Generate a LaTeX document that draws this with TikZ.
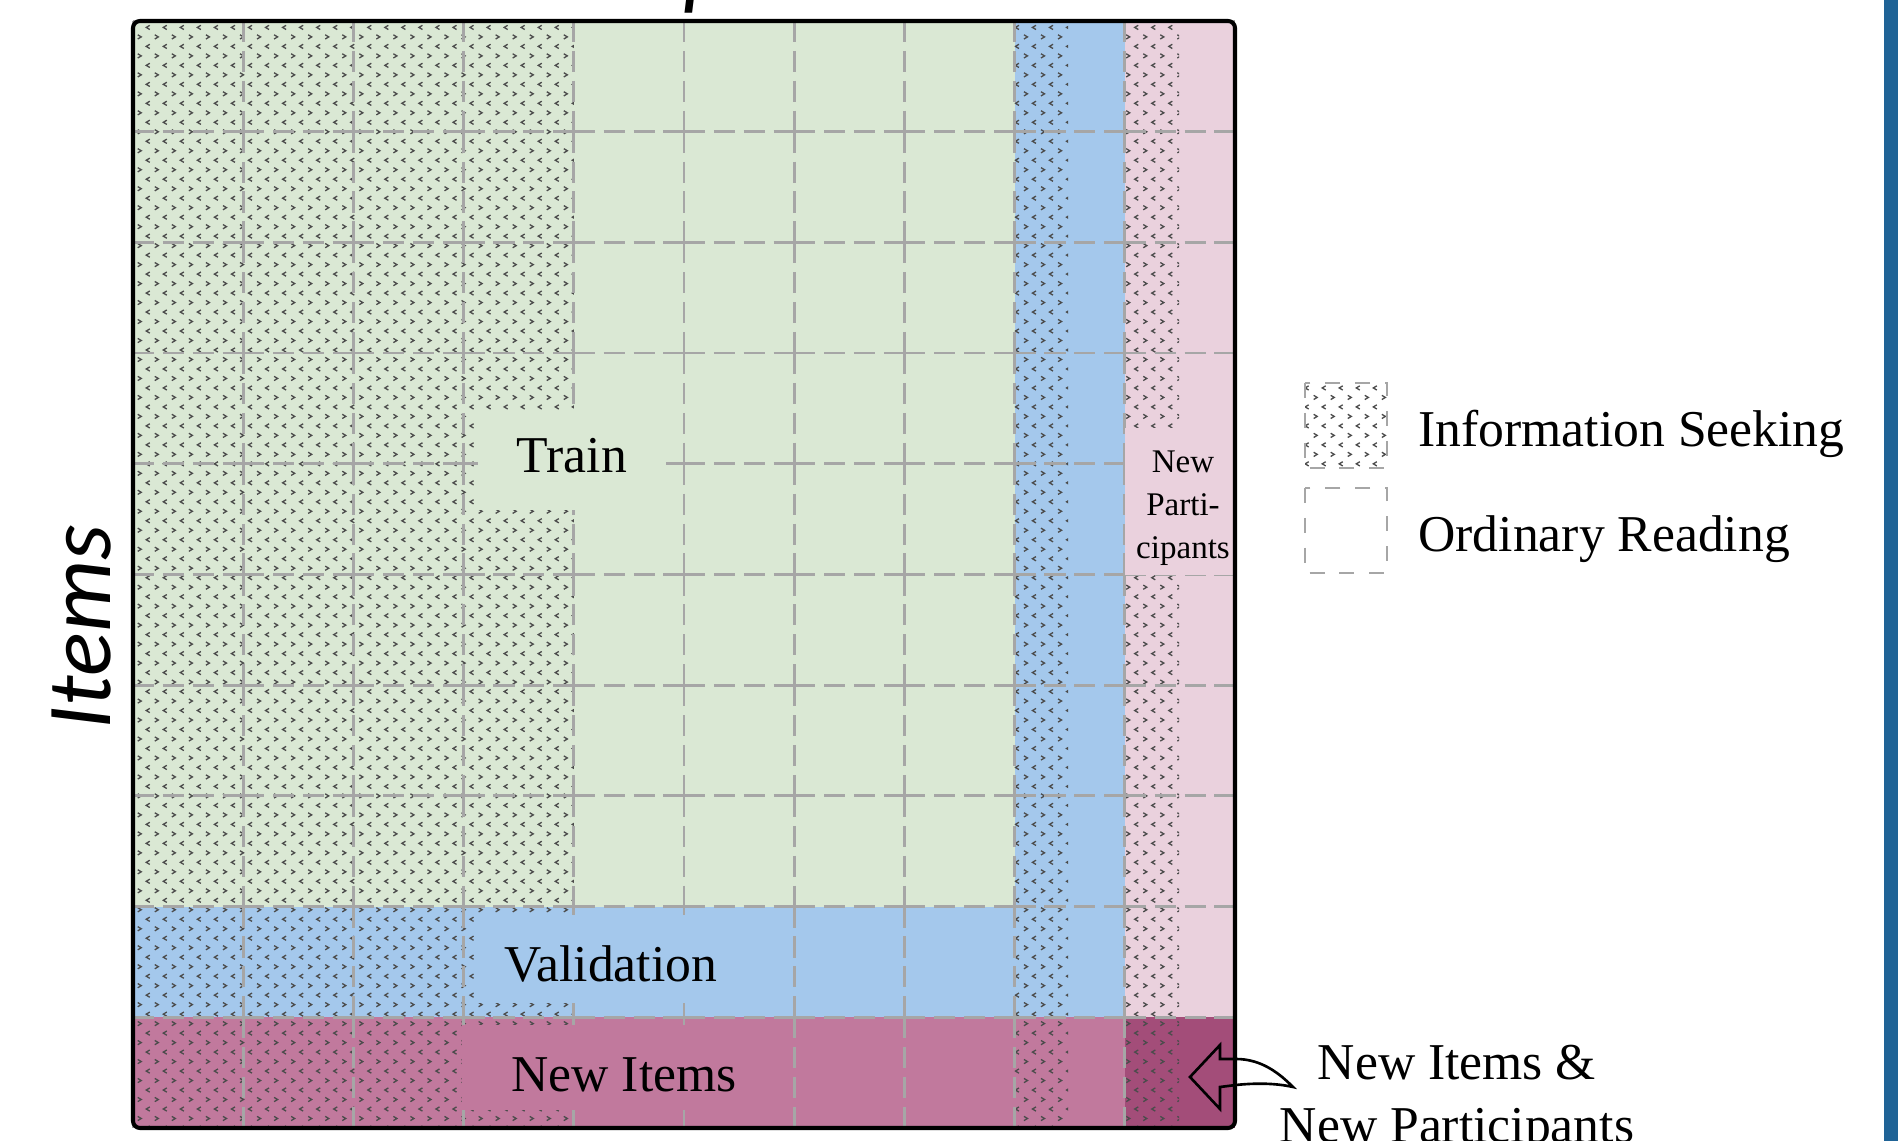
\documentclass[tikz,border=0pt]{standalone}
\usepackage{fontspec}
\setmainfont{Liberation Serif}
\newfontfamily\carlito{Carlito}
\usetikzlibrary{patterns}

\definecolor{trainc}{RGB}{218,232,212}
\definecolor{valc}{RGB}{164,200,236}
\definecolor{npc}{RGB}{234,209,221}
\definecolor{nic}{RGB}{193,121,157}
\definecolor{bothc}{RGB}{163,77,121}
\definecolor{gridc}{RGB}{166,166,166}
\definecolor{barc}{RGB}{31,99,150}

\pgfdeclarepatternformonly{seekmarks}{\pgfqpoint{-1pt}{-1pt}}{\pgfqpoint{10.7pt}{11.8pt}}{\pgfqpoint{9.7pt}{10.8pt}}{%
  \pgfsetlinewidth{0.75pt}%
  \pgfpathmoveto{\pgfqpoint{0.8pt}{3.2pt}}%
  \pgfpathlineto{\pgfqpoint{2.8pt}{2.0pt}}%
  \pgfpathlineto{\pgfqpoint{0.8pt}{0.8pt}}%
  \pgfpathmoveto{\pgfqpoint{7.65pt}{8.6pt}}%
  \pgfpathlineto{\pgfqpoint{5.65pt}{7.4pt}}%
  \pgfpathlineto{\pgfqpoint{7.65pt}{6.2pt}}%
  \pgfusepath{stroke}%
}

\tikzset{
  gridline/.style={draw=gridc, line width=1.6pt, dash pattern=on 12pt off 5pt},
  legdash/.style={draw=gridc, line width=1.5pt, dash pattern=on 8.5pt off 8.5pt},
  seek/.style={pattern=seekmarks, pattern color=black!70},
  lbl/.style={font=\fontsize{29.4}{34}\selectfont, inner sep=0pt},
  axislbl/.style={font=\carlito\itshape\fontsize{52}{60}\selectfont, inner sep=0pt},
  smalllbl/.style={font=\fontsize{18.8}{24.5}\selectfont, inner sep=0pt, align=center},
  frame/.style={draw=black, line width=2.3pt, rounded corners=4pt},
  callout/.style={draw=black, line width=1.5pt, line join=miter}
}

\begin{document}
\begin{tikzpicture}[x=0.02cm,y=-0.02cm]
\useasboundingbox (0,0) rectangle (1898,1141);
\fill[white] (0,0) rectangle (1898,1141);

% region fills
\fill[trainc] (133,21) rectangle (1014.6,906.6);
\fill[valc] (133,906.6) rectangle (1124.8,1017.3);
\fill[valc] (1014.6,21) rectangle (1124.8,1017.3);
\fill[npc] (1124.8,21) rectangle (1235,1017.3);
\fill[nic] (133,1017.3) rectangle (1124.8,1128);
\fill[bothc] (1124.8,1017.3) rectangle (1235,1128);

% information seeking pattern
\fill[seek] (133,21) rectangle (573.8,1128);
\fill[seek] (1014.6,21) rectangle (1068,1128);
\fill[seek] (1124.8,21) rectangle (1179,1128);

% grid cells (dashed edges)
\foreach \i in {0,...,9}{
  \foreach \j in {0,...,9}{
    \draw[gridline] ({133+\i*110.2},{21+\j*110.7}) -- ++(110.2,0);
    \draw[gridline] ({133+\i*110.2},{21+\j*110.7}) -- ++(0,110.7);
  }
}

% label backgrounds
\fill[trainc] (478,410) rectangle (666,510);
\fill[valc] (478,915) rectangle (744,1003);
\fill[nic] (462,1025) rectangle (782,1110);
\fill[npc] (1124.8,428) rectangle (1233,575);

% labels
\node[lbl, anchor=base] (train) at (572,473) {Train};
\node[lbl, anchor=base] (valid) at (611,982) {Validation};
\node[lbl, anchor=base] (newitems) at (624,1092) {New Items};
\node[smalllbl] (newpart) at (1183,508.5) {New\\Parti-\\cipants};

% outer frame
\draw[frame] (133,21) rectangle (1235,1128);

% callout arrow
\draw[callout] (1190,1077) -- (1220,1045) -- (1220,1059) -- (1236,1059)
  .. controls (1262,1059) and (1280,1074) .. (1293,1087)
  .. controls (1275,1083) and (1255,1083) .. (1236,1085)
  -- (1220,1087) -- (1220,1109) -- cycle;
\node[lbl, align=center] (both) at (1457,1099) {New Items \&\\[2pt]New Participants};

% axis labels
\node[axislbl, rotate=90, anchor=base] (items) at (110,627) {Items};
\node[axislbl, anchor=base west] (parts) at (449,-1) {Participants};

% legend
\fill[white] (1305,383) rectangle (1387,468);
\fill[seek] (1305,383) rectangle (1387,468);
\draw[legdash] (1305,383) rectangle (1387,468);
\draw[legdash] (1305,488) rectangle (1387,573);
\node[lbl, anchor=base west] (leginfo) at (1418,447) {Information Seeking};
\node[lbl, anchor=base west] (legord) at (1418,552) {Ordinary Reading};

% right edge bar
\fill[barc] (1884,0) rectangle (1898,1141);
\end{tikzpicture}
\end{document}
